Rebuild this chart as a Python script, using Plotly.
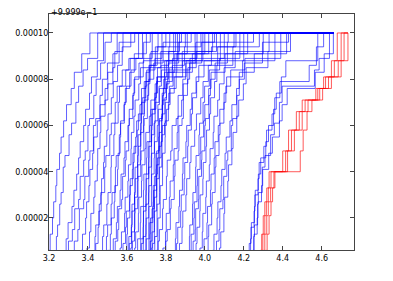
import plotly.graph_objects as go

# y levels of the staircases (units of 1e-6 above 0.9999)
ladder_a = [6, 13, 20, 27, 34, 41, 48, 55, 62, 69, 76, 83, 91, 100]
ladder_b = [4, 11, 18, 25, 32, 39, 46, 53, 60, 67, 74, 81, 88, 100]
ladder_c = [9, 16, 23, 30, 37, 44, 51, 58, 65, 72, 79, 86, 94, 100]
ladder_d = [7, 14, 22, 29, 36, 43, 50, 57, 64, 71, 78, 85, 92, 100]
ladder_e = [3, 12, 17, 26, 31, 42, 47, 56, 61, 70, 77, 84, 89, 100]
ladder_f = [10, 15, 24, 28, 38, 45, 49, 60, 63, 73, 80, 87, 96, 100]
ladder_r = [6, 13, 21, 27, 33, 40, 49, 58, 66, 71, 76, 81, 88, 100]
ladders = {"a": ladder_a, "b": ladder_b, "c": ladder_c, "d": ladder_d,
           "e": ladder_e, "f": ladder_f, "r": ladder_r}

# x position where each run reaches each level (blue runs)
blue_runs = [
    ("a", [3.200, 3.206, 3.218, 3.224, 3.235, 3.240, 3.254, 3.262, 3.275, 3.290, 3.314, 3.330, 3.368, 3.410]),
    ("e", [3.225, 3.238, 3.244, 3.255, 3.262, 3.273, 3.282, 3.303, 3.316, 3.338, 3.352, 3.375, 3.398, 3.450]),
    ("b", [3.265, 3.288, 3.298, 3.318, 3.328, 3.342, 3.352, 3.360, 3.378, 3.388, 3.408, 3.418, 3.448, 3.480]),
    ("f", [3.300, 3.320, 3.332, 3.352, 3.360, 3.378, 3.386, 3.400, 3.408, 3.430, 3.442, 3.465, 3.488, 3.520]),
    ("a", [3.365, 3.372, 3.388, 3.393, 3.405, 3.410, 3.424, 3.430, 3.448, 3.462, 3.488, 3.502, 3.528, 3.550]),
    ("d", [3.395, 3.408, 3.415, 3.430, 3.436, 3.448, 3.450, 3.462, 3.466, 3.488, 3.502, 3.528, 3.538, 3.580]),
    ("c", [3.440, 3.452, 3.456, 3.468, 3.470, 3.480, 3.484, 3.497, 3.503, 3.520, 3.530, 3.552, 3.576, 3.620]),
    ("e", [3.460, 3.475, 3.481, 3.497, 3.503, 3.518, 3.520, 3.533, 3.538, 3.555, 3.562, 3.594, 3.617, 3.660]),
    ("a", [3.500, 3.515, 3.520, 3.535, 3.538, 3.552, 3.555, 3.565, 3.568, 3.585, 3.592, 3.614, 3.638, 3.700]),
    ("b", [3.520, 3.530, 3.546, 3.551, 3.565, 3.570, 3.585, 3.590, 3.605, 3.612, 3.632, 3.640, 3.684, 3.950]),
    ("f", [3.540, 3.553, 3.558, 3.573, 3.578, 3.592, 3.596, 3.609, 3.612, 3.630, 3.637, 3.662, 3.686, 3.720]),
    ("d", [3.565, 3.572, 3.588, 3.591, 3.605, 3.608, 3.621, 3.623, 3.636, 3.642, 3.661, 3.670, 3.724, 3.760]),
    ("a", [3.590, 3.600, 3.603, 3.615, 3.616, 3.628, 3.631, 3.645, 3.650, 3.667, 3.675, 3.698, 3.718, 4.300]),
    ("e", [3.605, 3.610, 3.623, 3.626, 3.639, 3.642, 3.655, 3.658, 3.671, 3.675, 3.694, 3.702, 3.744, 3.780]),
    ("c", [3.612, 3.623, 3.626, 3.639, 3.642, 3.655, 3.657, 3.671, 3.673, 3.689, 3.697, 3.718, 3.756, 3.820]),
    ("d", [3.620, 3.625, 3.639, 3.641, 3.654, 3.656, 3.669, 3.671, 3.685, 3.689, 3.709, 3.718, 3.774, 3.850]),
    ("f", [3.628, 3.639, 3.641, 3.655, 3.657, 3.671, 3.673, 3.687, 3.689, 3.705, 3.712, 3.738, 3.786, 3.880]),
    ("b", [3.667, 3.671, 3.684, 3.685, 3.698, 3.699, 3.712, 3.713, 3.727, 3.731, 3.749, 3.757, 3.804, 3.840]),
    ("c", [3.674, 3.684, 3.685, 3.698, 3.699, 3.712, 3.713, 3.726, 3.728, 3.744, 3.752, 3.775, 3.816, 3.900]),
    ("e", [3.680, 3.684, 3.697, 3.698, 3.711, 3.712, 3.725, 3.726, 3.740, 3.745, 3.765, 3.777, 3.834, 3.960]),
    ("a", [3.688, 3.698, 3.699, 3.712, 3.713, 3.726, 3.727, 3.741, 3.743, 3.759, 3.767, 3.793, 3.846, 4.000]),
    ("b", [3.695, 3.699, 3.712, 3.713, 3.726, 3.727, 3.740, 3.742, 3.756, 3.761, 3.781, 3.797, 3.904, 4.200]),
    ("f", [3.720, 3.729, 3.729, 3.741, 3.741, 3.753, 3.753, 3.766, 3.767, 3.783, 3.789, 3.813, 3.866, 3.930]),
    ("d", [3.726, 3.729, 3.741, 3.741, 3.753, 3.753, 3.765, 3.766, 3.779, 3.783, 3.803, 3.817, 3.884, 4.060]),
    ("c", [3.732, 3.741, 3.741, 3.753, 3.753, 3.765, 3.765, 3.778, 3.779, 3.795, 3.803, 3.833, 3.896, 3.980]),
    ("e", [3.740, 3.743, 3.755, 3.755, 3.767, 3.767, 3.779, 3.780, 3.793, 3.797, 3.818, 3.837, 3.924, 4.100]),
    ("a", [3.750, 3.759, 3.759, 3.771, 3.771, 3.783, 3.783, 3.796, 3.797, 3.813, 3.822, 3.853, 3.936, 4.020]),
    ("d", [3.785, 3.798, 3.802, 3.818, 3.822, 3.838, 3.842, 3.858, 3.862, 3.881, 3.889, 3.913, 3.956, 4.040]),
    ("f", [3.800, 3.807, 3.823, 3.827, 3.843, 3.847, 3.863, 3.867, 3.883, 3.890, 3.911, 3.922, 3.984, 4.120]),
    ("b", [3.837, 3.849, 3.852, 3.867, 3.870, 3.885, 3.888, 3.903, 3.907, 3.925, 3.933, 3.955, 3.996, 4.080]),
    ("c", [3.855, 3.861, 3.876, 3.879, 3.894, 3.897, 3.912, 3.915, 3.931, 3.937, 3.958, 3.969, 4.034, 4.150]),
    ("e", [3.910, 3.921, 3.923, 3.937, 3.939, 3.953, 3.955, 3.970, 3.973, 3.991, 3.999, 4.023, 4.076, 4.180]),
    ("a", [3.925, 3.930, 3.944, 3.946, 3.960, 3.962, 3.976, 3.979, 3.994, 4.000, 4.020, 4.032, 4.104, 4.220]),
    ("f", [3.940, 3.951, 3.953, 3.967, 3.969, 3.983, 3.985, 4.000, 4.003, 4.021, 4.029, 4.053, 4.116, 4.250]),
    ("c", [3.955, 3.960, 3.974, 3.976, 3.990, 3.992, 4.006, 4.009, 4.024, 4.030, 4.050, 4.062, 4.144, 4.280]),
    ("d", [3.975, 3.987, 3.990, 4.005, 4.008, 4.023, 4.027, 4.043, 4.047, 4.066, 4.075, 4.099, 4.156, 4.330]),
    ("b", [3.990, 3.996, 4.011, 4.014, 4.029, 4.032, 4.048, 4.052, 4.069, 4.077, 4.099, 4.112, 4.194, 4.360]),
    ("e", [4.005, 4.017, 4.020, 4.035, 4.038, 4.053, 4.057, 4.073, 4.078, 4.098, 4.108, 4.133, 4.206, 4.390]),
    ("a", [4.040, 4.047, 4.063, 4.067, 4.083, 4.087, 4.104, 4.110, 4.129, 4.139, 4.163, 4.177, 4.254, 4.420]),
    ("f", [4.060, 4.073, 4.077, 4.093, 4.097, 4.113, 4.118, 4.136, 4.143, 4.165, 4.177, 4.203, 4.296, 4.430]),
    ("d", [4.075, 4.082, 4.098, 4.102, 4.118, 4.122, 4.139, 4.145, 4.164, 4.174, 4.198, 4.212, 4.324, 4.440]),
    ("b", [4.220, 4.235, 4.239, 4.255, 4.259, 4.275, 4.287, 4.313, 4.327, 4.353, 4.367, 4.393, 4.416, 4.580]),
    ("c", [4.228, 4.237, 4.253, 4.257, 4.273, 4.279, 4.303, 4.317, 4.345, 4.359, 4.385, 4.536, 4.573, 4.610]),
    ("e", [4.236, 4.251, 4.255, 4.271, 4.275, 4.295, 4.309, 4.338, 4.357, 4.383, 4.397, 4.563, 4.587, 4.640]),
    ("a", [4.245, 4.253, 4.269, 4.273, 4.291, 4.297, 4.328, 4.347, 4.383, 4.397, 4.423, 4.567, 4.613, 4.660]),
    ("c", [3.580, 3.593, 3.597, 3.613, 3.617, 3.633, 3.637, 3.653, 3.659, 3.679, 3.689, 3.713, 3.746, 3.800]),
    ("d", [3.640, 3.645, 3.659, 3.661, 3.675, 3.677, 3.693, 3.697, 3.715, 3.723, 3.745, 3.757, 3.814, 3.870]),
    ("b", [3.700, 3.713, 3.717, 3.733, 3.737, 3.753, 3.757, 3.775, 3.782, 3.803, 3.815, 3.843, 3.886, 3.990]),
    ("f", [3.760, 3.767, 3.783, 3.787, 3.803, 3.807, 3.825, 3.832, 3.853, 3.863, 3.887, 3.902, 3.954, 4.050]),
    ("c", [3.870, 3.883, 3.887, 3.903, 3.907, 3.923, 3.929, 3.948, 3.957, 3.979, 3.991, 4.018, 4.066, 4.160]),
    ("e", [3.480, 3.495, 3.501, 3.519, 3.524, 3.541, 3.545, 3.561, 3.567, 3.587, 3.597, 3.621, 3.646, 3.730]),
    ("b", [3.650, 3.655, 3.669, 3.671, 3.685, 3.687, 3.701, 3.703, 3.718, 3.723, 3.743, 3.753, 3.794, 3.860]),
    ("a", [3.710, 3.720, 3.721, 3.734, 3.735, 3.748, 3.749, 3.763, 3.765, 3.781, 3.787, 3.809, 3.856, 3.910]),
    ("f", [3.330, 3.348, 3.356, 3.378, 3.384, 3.404, 3.410, 3.428, 3.440, 3.462, 3.474, 3.500, 3.560, 3.640]),
    ("e", [3.420, 3.436, 3.440, 3.458, 3.466, 3.486, 3.492, 3.512, 3.520, 3.540, 3.550, 3.576, 3.610, 3.680]),
]
blue_end = 4.66

red_runs = [
    ("r", [4.283, 4.292, 4.300, 4.308, 4.318, 4.330, 4.400, 4.430, 4.470, 4.500, 4.570, 4.610, 4.650, 4.680]),
    ("r", [4.290, 4.298, 4.308, 4.316, 4.326, 4.340, 4.415, 4.445, 4.485, 4.515, 4.580, 4.620, 4.665, 4.700]),
    ("r", [4.300, 4.308, 4.318, 4.326, 4.338, 4.360, 4.425, 4.460, 4.500, 4.530, 4.590, 4.635, 4.685, 4.715]),
    ("r", [4.312, 4.320, 4.330, 4.340, 4.348, 4.355, 4.490, 4.505, 4.525, 4.550, 4.605, 4.650, 4.700, 4.735]),
]
red_end = 4.735

x_ticks = [3.2, 3.4, 3.6, 3.8, 4.0, 4.2, 4.4, 4.6]
y_ticks = [0.00002, 0.00004, 0.00006, 0.00008, 0.00010]

fig = go.Figure()

def add_run(key, xs, end, color):
    ys = [v * 1e-6 for v in ladders[key]]
    fig.add_trace(go.Scatter(
        x=[xs[0]] + xs + [end], y=[0.0] + ys + [ys[-1]],
        mode="lines", line=dict(color=color, width=1, shape="hv"),
        hoverinfo="skip", showlegend=False))

for key, xs in blue_runs:
    add_run(key, xs, blue_end, "rgba(0,0,255,0.62)")
for key, xs in red_runs:
    add_run(key, xs, red_end, "rgba(255,0,0,0.65)")

axis_style = dict(showline=True, linecolor="#444", linewidth=1.3, mirror="ticks",
                  ticks="inside", ticklen=4, tickcolor="#444", showgrid=False,
                  zeroline=False, tickfont=dict(family="DejaVu Sans", size=8, color="black"))

fig.update_xaxes(range=[3.2, 4.766], tickvals=x_ticks, tickformat=".1f", **axis_style)
fig.update_yaxes(range=[0.00000616, 0.0001082], tickvals=y_ticks, tickformat=".5f",
                 ticklabelstandoff=-2, **axis_style)

# offset text above the top-left corner, as matplotlib draws it
fig.add_annotation(text="+9.999e\u22121", xref="paper", yref="paper", x=0, y=1,
                   xanchor="left", yanchor="middle", showarrow=False, yshift=2,
                   font=dict(family="DejaVu Sans", size=8, color="black"))

# page body adds 8px around the figure, so the figure is drawn 8px smaller
fig.update_layout(width=385, height=273, margin=dict(l=41, r=39, t=6, b=31),
                  plot_bgcolor="white", paper_bgcolor="white")

fig.write_html("out.html")
